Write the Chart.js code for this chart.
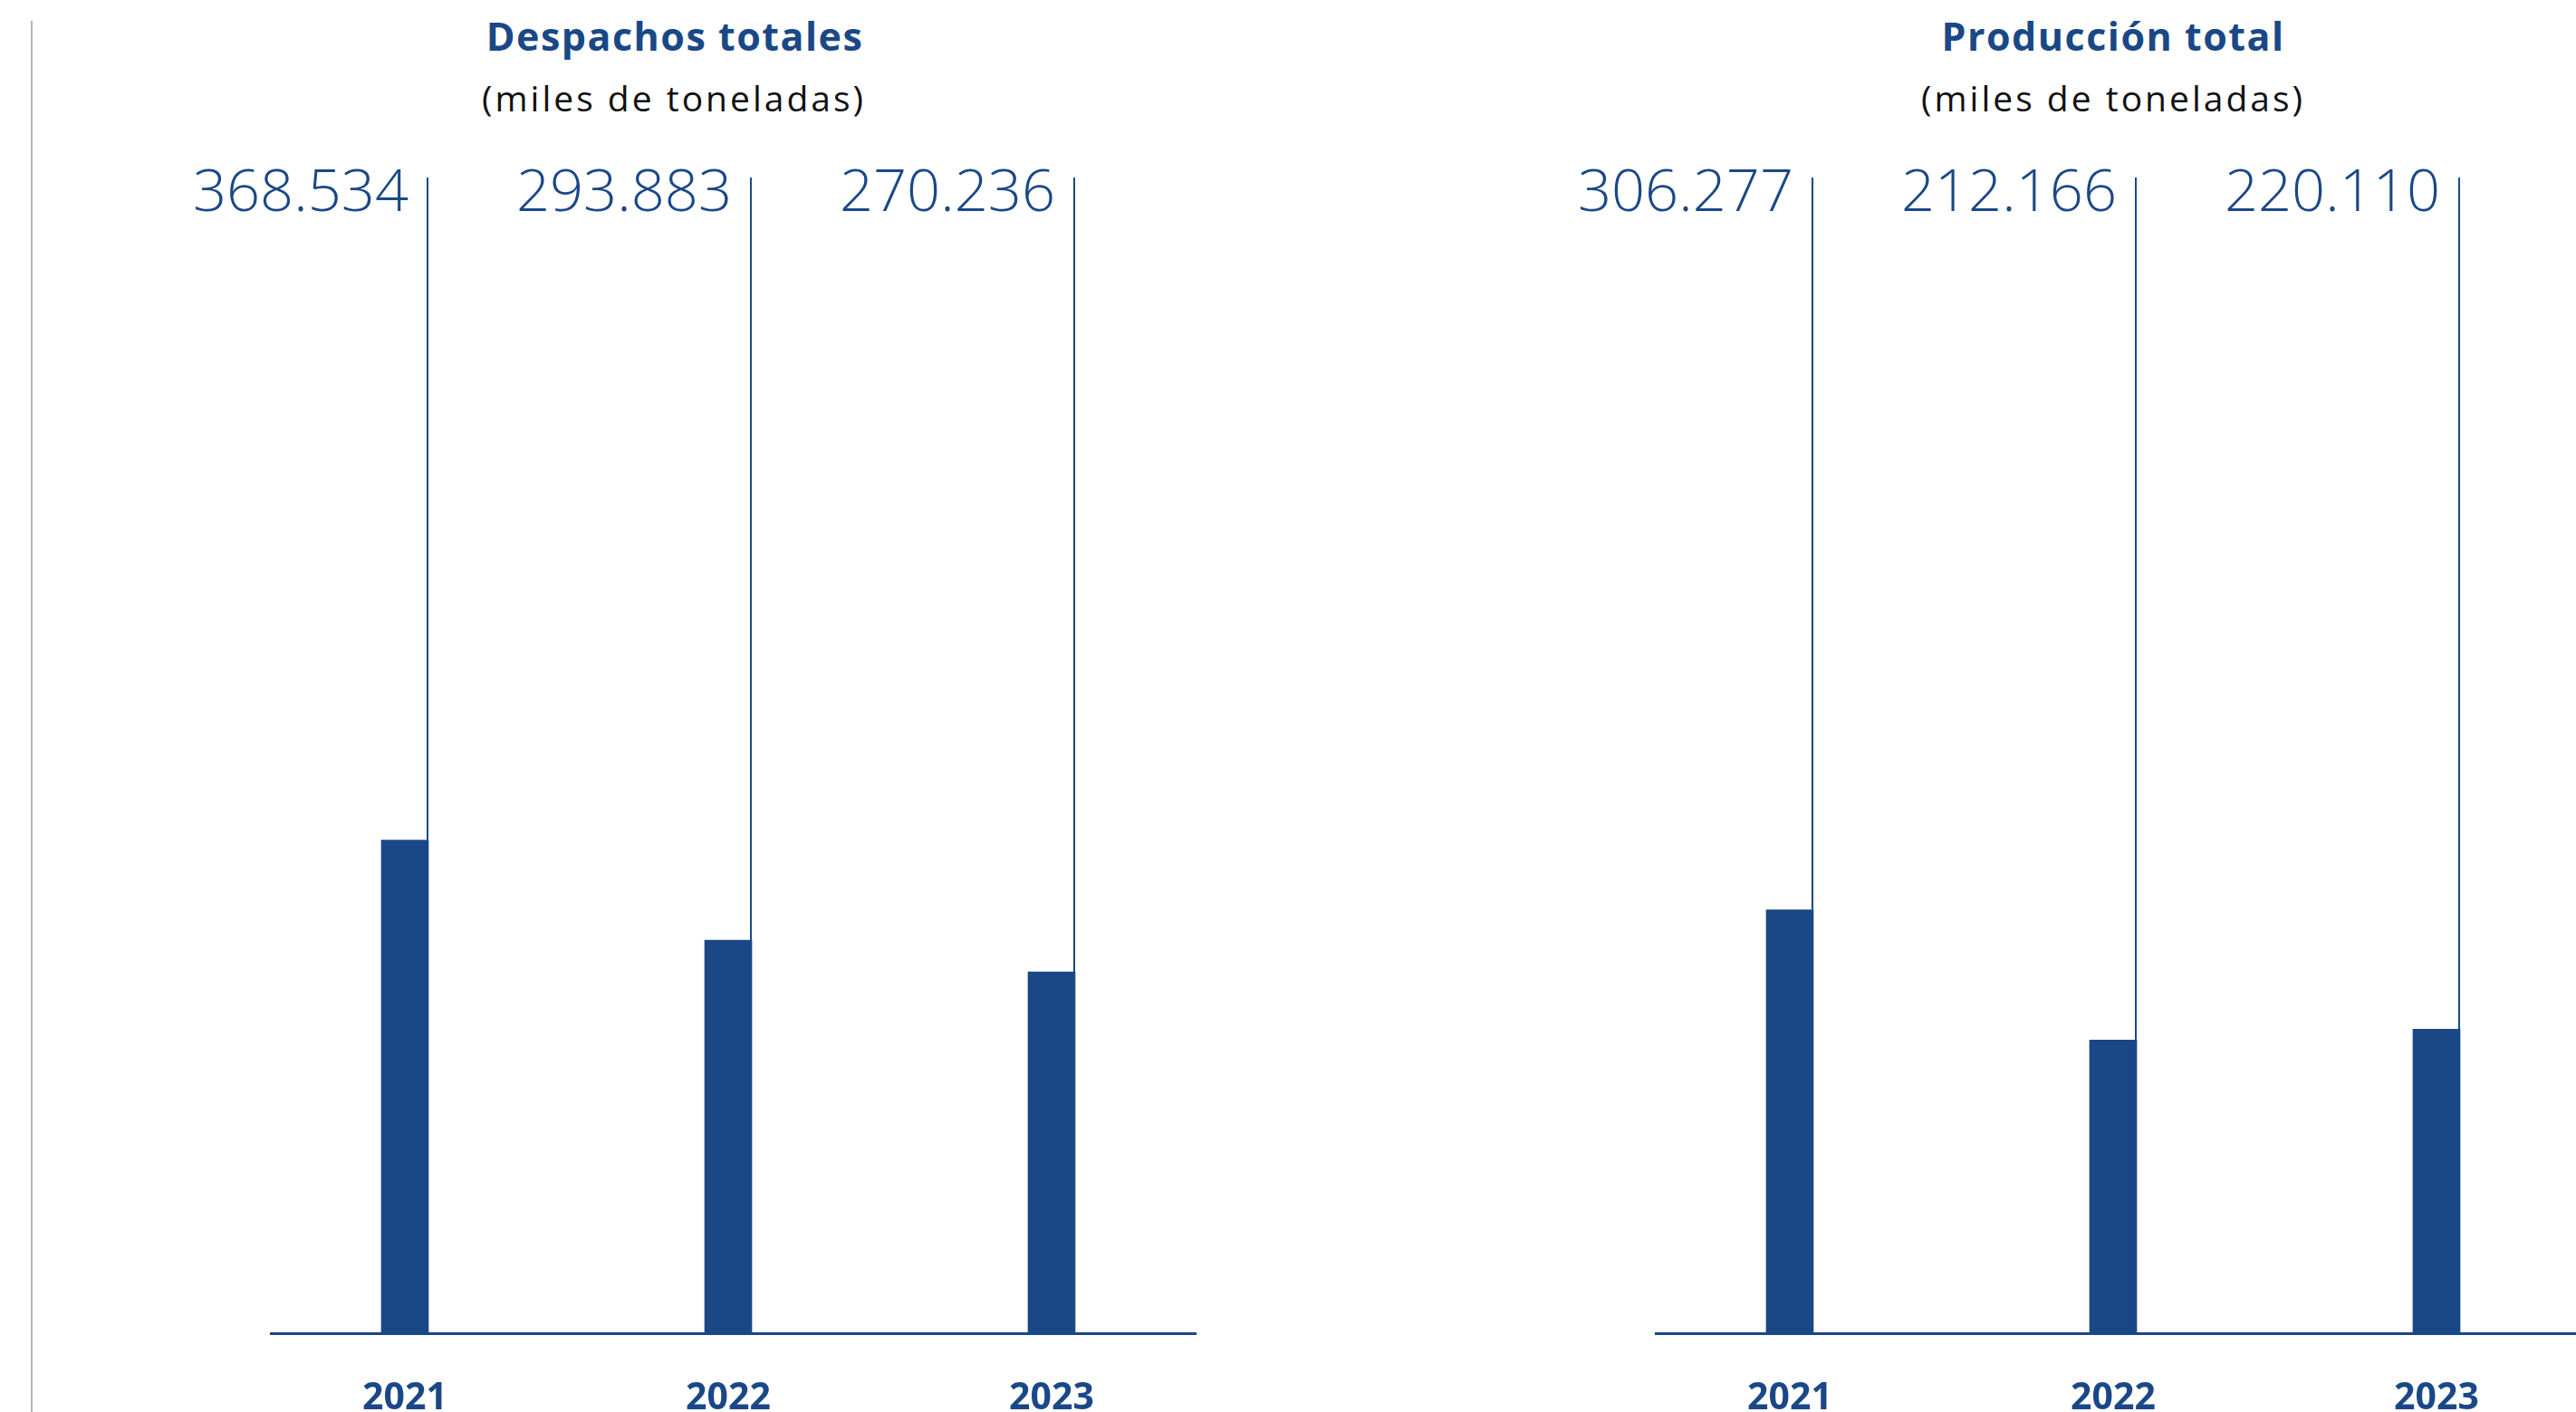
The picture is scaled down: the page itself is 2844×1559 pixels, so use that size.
<!DOCTYPE html>
<html lang="es">
<head>
<meta charset="utf-8">
<title>Despachos y producción</title>
<script src="https://cdn.jsdelivr.net/npm/chart.js@4.4.1/dist/chart.umd.min.js"></script>
<style>
  html, body {
    margin: 0;
    width: 2844px;
    height: 1559px;
    overflow: hidden;
    background: #ffffff;
  }
  .divisor {
    position: absolute;
    left: 34px;
    top: 23px;
    width: 2px;
    height: 1536px;
    background: #b4b4b4;
  }
  .titulo, .subtitulo {
    position: absolute;
    width: 800px;
    text-align: center;
    font-family: "Open Sans", sans-serif;
    white-space: nowrap;
  }
  .titulo {
    top: 15px;
    font-size: 43px;
    line-height: 50px;
    font-weight: 700;
    letter-spacing: 1.5px;
    color: #1a4887;
  }
  .subtitulo {
    top: 85px;
    font-size: 39px;
    line-height: 46px;
    font-weight: 400;
    letter-spacing: 3px;
    color: #111111;
  }
  canvas {
    position: absolute;
    top: 0;
  }
</style>
</head>
<body>
<div class="divisor"></div>

<div class="titulo" id="titulo_izq" style="left:345px"></div>
<div class="subtitulo" id="sub_izq" style="left:344px"></div>
<div class="titulo" id="titulo_der" style="left:1933px"></div>
<div class="subtitulo" id="sub_der" style="left:1933px"></div>

<canvas id="Chart_Despachos" width="1400" height="1646" style="left:0px"></canvas>
<canvas id="Chart_Produccion" width="1200" height="1646" style="left:1700px"></canvas>

<script>
// Datos (miles de toneladas)
const anios = ["2021", "2022", "2023"];
const despachos = [368534, 293883, 270236];
const produccion = [306277, 212166, 220110];
const titulos = ["Despachos totales", "Producción total"];
const unidad = "(miles de toneladas)";

const AZUL = "#1a4887";

document.getElementById("titulo_izq").textContent = titulos[0];
document.getElementById("titulo_der").textContent = titulos[1];
document.getElementById("sub_izq").textContent = unidad;
document.getElementById("sub_der").textContent = unidad;

// 368534 -> "368.534"
function formato(valor) {
  return String(valor).replace(/\B(?=(\d{3})+(?!\d))/g, ".");
}

// Línea vertical desde cada barra y su etiqueta arriba
const etiquetasPlugin = {
  id: "etiquetas",
  afterDatasetsDraw(chart) {
    const ctx = chart.ctx;
    const arriba = chart.chartArea.top;
    const datos = chart.data.datasets[0].data;
    const meta = chart.getDatasetMeta(0);
    ctx.save();
    meta.data.forEach((barra, i) => {
      let x = barra.x + barra.width / 2 - 1;
      ctx.strokeStyle = AZUL;
      ctx.lineWidth = 2;
      ctx.beginPath();
      ctx.moveTo(x, barra.y);
      ctx.lineTo(x, arriba);
      ctx.stroke();

      ctx.fillStyle = AZUL;
      ctx.font = '300 65px "Open Sans"';
      ctx.textAlign = "right";
      ctx.textBaseline = "alphabetic";
      ctx.fillText(formato(datos[i].y), x - 21, arriba + 37);
    });
    ctx.restore();
  },
};

function grafica_barras(id, valores, maximo, padIzq, padDer) {
  let chart = new Chart(document.getElementById(id), {
    type: "bar",
    data: {
      datasets: [
        {
          data: valores.map((v, i) => ({ x: i, y: v })),
          backgroundColor: AZUL,
          borderWidth: 0,
          barThickness: 52,
        },
      ],
    },
    options: {
      responsive: false,
      animation: false,
      events: [],
      layout: {
        padding: { top: 196, bottom: 30, left: padIzq, right: padDer },
      },
      plugins: {
        legend: { display: false },
        tooltip: { enabled: false },
      },
      scales: {
        x: {
          type: "linear",
          offset: false,
          min: -0.4146,
          max: 2.4454,
          grid: { display: false, drawTicks: false, offset: false },
          border: { display: true, color: AZUL, width: 3 },
          afterBuildTicks: (eje) => {
            eje.ticks = anios.map((a, i) => ({ value: i }));
          },
          ticks: {
            autoSkip: false,
            maxRotation: 0,
            padding: 47,
            color: AZUL,
            font: { family: "Open Sans", size: 41, weight: "bold" },
            callback: (v) => anios[v],
          },
        },
        y: {
          display: false,
          min: 0,
          max: maximo,
        },
      },
    },
    plugins: [etiquetasPlugin],
  });
  return chart;
}

grafica_barras("Chart_Despachos", despachos, 863000, 299, 80);
grafica_barras("Chart_Produccion", produccion, 835000, 128, 51);
</script>
</body>
</html>
